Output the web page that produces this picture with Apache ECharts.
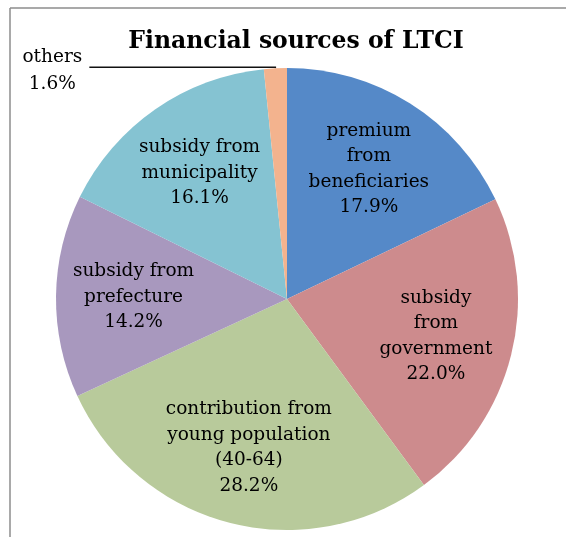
<!DOCTYPE html>
<html>
<head>
<meta charset="utf-8">
<script src="https://cdn.jsdelivr.net/npm/echarts@6/dist/echarts.min.js"></script>
<style>
html,body{margin:0;padding:0;background:#fff;}
#chart{width:566px;height:537px;}
</style>
</head>
<body>
<div id="chart"></div>
<script>
const categories = ['premium\nfrom\nbeneficiaries', 'subsidy\nfrom\ngovernment', 'contribution from\nyoung population\n(40-64)', 'subsidy from\nprefecture', 'subsidy from\nmunicipality', 'others'];
const values = [17.9, 22.0, 28.2, 14.2, 16.1, 1.6];
const colors = ['#5589C8', '#CD8B8D', '#B8CA9B', '#A898BE', '#85C3D2', '#F3B38E'];

const font = 'DejaVu Serif';
const chart = echarts.init(document.getElementById('chart'), null, {renderer: 'canvas'});

const mainData = categories.map((c, i) => {
  const isOther = c === 'others';
  return {
    name: c,
    value: values[i],
    itemStyle: {color: colors[i]},
    label: isOther ? {
      show: true,
      position: 'outside',
      formatter: p => '{a|' + p.name + '}\n{a|' + p.value.toFixed(1) + '%}',
      rich: {a: {width: 68, align: 'center', fontFamily: font, fontSize: 18.5, lineHeight: 27, color: '#000'}},
      padding: [7, 0, 0, 0],
      distanceToLabelLine: 3
    } : {show: false},
    labelLine: isOther ? {show: true, length: 1, length2: 186, lineStyle: {color: '#111', width: 1.5}} : {show: false}
  };
});

const labelData = categories.map((c, i) => ({
  name: c,
  value: values[i],
  itemStyle: {color: 'rgba(0,0,0,0)'},
  label: {show: c !== 'others'}
}));

chart.setOption({
  animation: false,
  title: {
    text: 'Financial sources of LTCI',
    left: 291,
    top: 25,
    textAlign: 'center',
    textStyle: {fontFamily: font, fontWeight: 'bold', fontSize: 23.5, color: '#000'}
  },
  graphic: [
    {type: 'line', shape: {x1: 10, y1: 8, x2: 566, y2: 8}, style: {stroke: '#8c8c8c', lineWidth: 1.5}},
    {type: 'line', shape: {x1: 10, y1: 8, x2: 10, y2: 537}, style: {stroke: '#8c8c8c', lineWidth: 1.5}}
  ],
  series: [
    {
      type: 'pie',
      center: [287, 299],
      radius: 231,
      startAngle: 90,
      clockwise: true,
      avoidLabelOverlap: false,
      silent: true,
      data: mainData
    },
    {
      type: 'pie',
      center: [287, 299],
      radius: [70, 231],
      startAngle: 90,
      clockwise: true,
      avoidLabelOverlap: false,
      silent: true,
      label: {
        position: 'inside',
        formatter: p => p.name + '\n' + p.value.toFixed(1) + '%',
        fontFamily: font,
        fontSize: 18.5,
        lineHeight: 25.5,
        color: '#000',
        align: 'center'
      },
      labelLine: {show: false},
      data: labelData
    }
  ]
});
</script>
</body>
</html>
